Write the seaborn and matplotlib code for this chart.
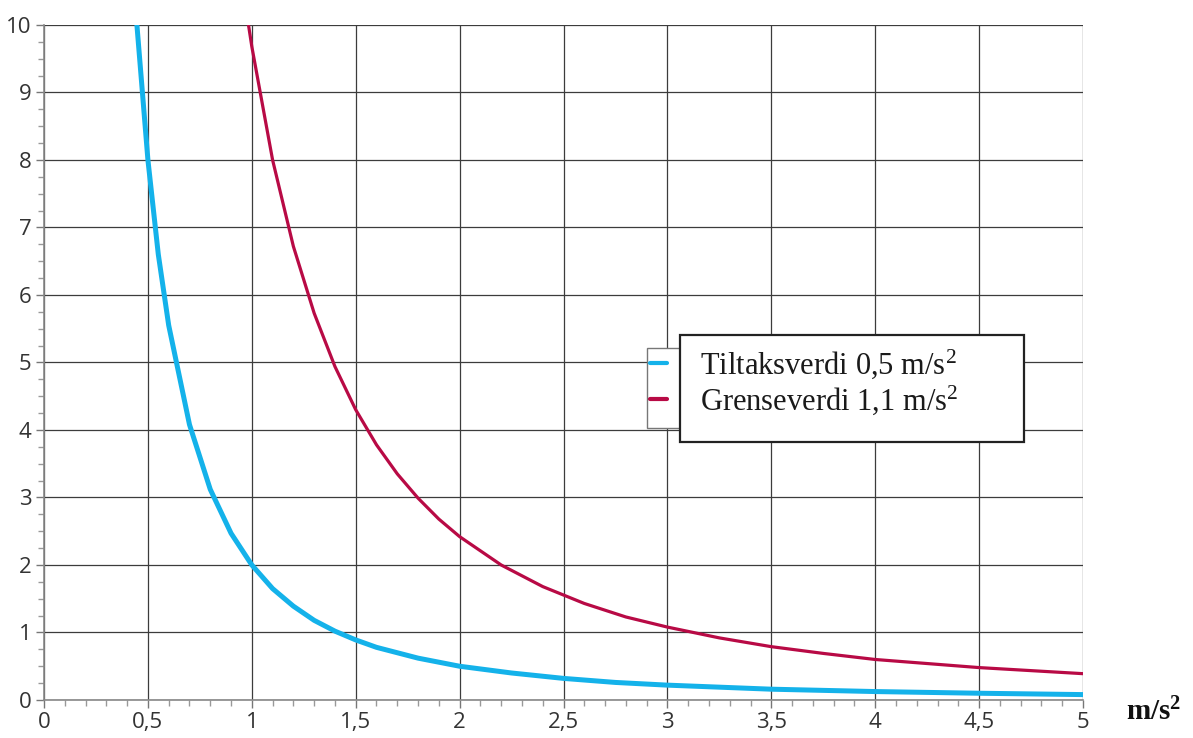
import pandas as pd
import matplotlib
matplotlib.use("Agg")
import matplotlib.pyplot as plt
from matplotlib.patches import Rectangle
from matplotlib.ticker import MultipleLocator, FuncFormatter
import seaborn as sns

# values
blue_x = [0.447, 0.5, 0.55, 0.6, 0.7, 0.8, 0.9, 1.0, 1.1, 1.2, 1.3, 1.4, 1.5, 1.6,
          1.8, 2.0, 2.25, 2.5, 2.75, 3.0, 3.5, 4.0, 4.5, 5.0]
blue_y = [10.0, 8.0, 6.6, 5.55, 4.08, 3.12, 2.47, 2.0, 1.65, 1.39, 1.18, 1.02, 0.89, 0.78,
          0.62, 0.5, 0.4, 0.32, 0.26, 0.22, 0.16, 0.125, 0.1, 0.08]
red_x = [0.984, 1.0, 1.1, 1.2, 1.3, 1.4, 1.5, 1.6, 1.7, 1.8, 1.9, 2.0, 2.2, 2.4, 2.6,
         2.8, 3.0, 3.25, 3.5, 3.75, 4.0, 4.5, 5.0]
red_y = [10.0, 9.68, 8.0, 6.72, 5.73, 4.94, 4.3, 3.78, 3.35, 2.99, 2.68, 2.42, 2.0, 1.68, 1.43,
         1.23, 1.08, 0.92, 0.79, 0.69, 0.6, 0.48, 0.39]
labels = ["Tiltaksverdi 0,5 m/s$^{2}$", "Grenseverdi 1,1 m/s$^{2}$"]
x_unit = "m/s$^{\\mathbf{2}}$"

blue = "#14b2ea"
red = "#b80a45"

sns.set_style("white")
plt.rcParams["font.family"] = ["Open Sans", "DejaVu Sans"]
plt.rcParams["mathtext.fontset"] = "custom"
plt.rcParams["mathtext.rm"] = "Liberation Serif"
plt.rcParams["mathtext.bf"] = "Liberation Serif:bold"
plt.rcParams["mathtext.default"] = "regular"

fig = plt.figure(figsize=(11.93, 7.38), dpi=100)
ax = fig.add_axes([0.0369, 0.0515, 0.8709, 0.9147])

df_blue = pd.DataFrame({"x": blue_x, "y": blue_y})
df_red = pd.DataFrame({"x": red_x, "y": red_y})
sns.lineplot(data=df_blue, x="x", y="y", ax=ax, color=blue, linewidth=3.6, sort=False,
             label=labels[0], zorder=2)
sns.lineplot(data=df_red, x="x", y="y", ax=ax, color=red, linewidth=2.3, sort=False,
             label=labels[1], zorder=2)

ax.set_xlim(0, 5)
ax.set_ylim(0, 10)
ax.xaxis.set_major_locator(MultipleLocator(0.5))
ax.xaxis.set_minor_locator(MultipleLocator(0.1))
ax.yaxis.set_major_locator(MultipleLocator(1))
ax.yaxis.set_minor_locator(MultipleLocator(0.25))
ax.xaxis.set_major_formatter(FuncFormatter(lambda v, p: f"{v:g}".replace(".", ",")))
ax.yaxis.set_major_formatter(FuncFormatter(lambda v, p: f"{v:g}"))
ax.tick_params(axis="both", which="major", direction="out", length=6, width=1,
               color="#777777", labelsize=16, labelcolor="#333333", pad=3)
ax.tick_params(axis="both", which="minor", direction="out", length=4, width=1,
               color="#999999")
ax.tick_params(axis="both", which="both", bottom=True, left=True)
ax.grid(True, which="major", color="#3c3c3c", linewidth=0.9)
ax.set_xlabel("")
ax.set_ylabel("")
for side in ["top", "right"]:
    ax.spines[side].set_visible(False)
for side in ["left", "bottom"]:
    ax.spines[side].set_color("#888888")
    ax.spines[side].set_linewidth(1.2)

# legend boxes
small_box = Rectangle((0.580, 0.403), 0.032, 0.118, transform=ax.transAxes,
                      facecolor="white", edgecolor="#777777", linewidth=1, zorder=3)
big_box = Rectangle((0.612, 0.382), 0.331, 0.159, transform=ax.transAxes,
                    facecolor="white", edgecolor="#222222", linewidth=1.6, zorder=4)
ax.add_patch(small_box)
ax.add_patch(big_box)

handles, _ = ax.get_legend_handles_labels()
leg = ax.legend(handles, labels, loc="upper left", bbox_to_anchor=(0.583, 0.522),
                frameon=False, borderpad=0, borderaxespad=0, handlelength=0.55,
                handletextpad=1.1, labelspacing=0.08,
                prop={"family": "Liberation Serif", "size": 22})
leg.set_zorder(5)
for line in leg.get_lines():
    line.set_linewidth(3)
for t in leg.get_texts():
    t.set_color("#1a1a1a")

fig.text(0.944, 0.024, x_unit, fontsize=21, fontweight="bold", family="Liberation Serif",
         color="#111111")

fig.savefig("out.png", dpi=100)
